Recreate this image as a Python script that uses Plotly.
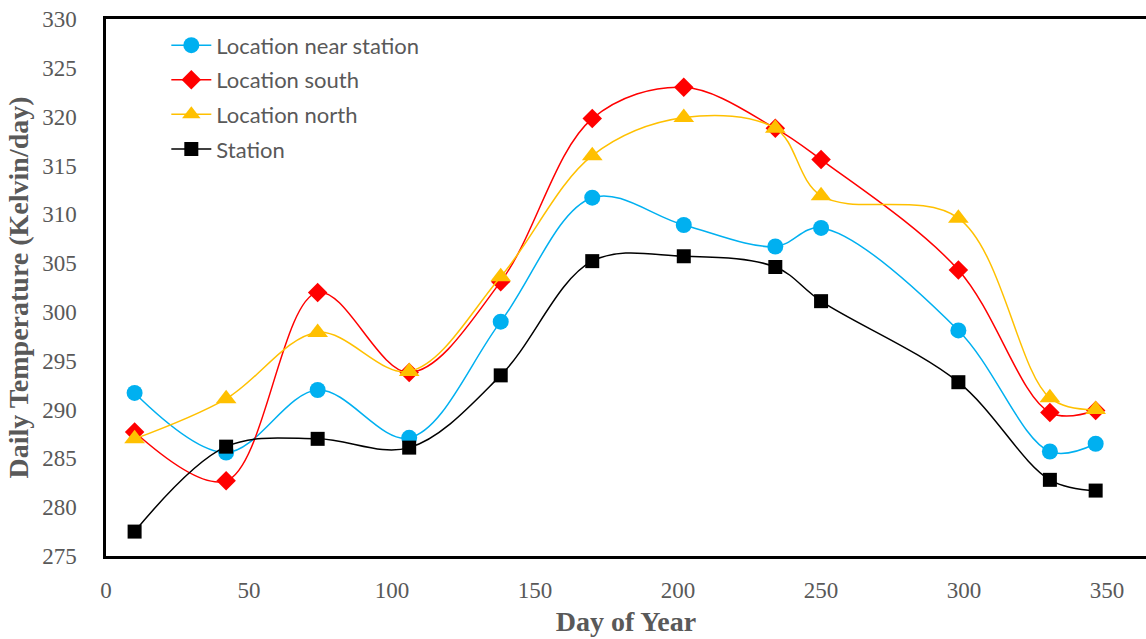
import plotly.graph_objects as go

days = [10, 42, 74, 106, 138, 170, 202, 234, 250, 298, 330, 346]
near_station = [291.7, 285.6, 292.0, 287.1, 299.0, 311.7, 308.9, 306.7, 308.6, 298.1, 285.7, 286.5]
south = [287.7, 282.7, 302.0, 293.8, 303.1, 319.8, 323.0, 318.8, 315.6, 304.3, 289.7, 289.9]
north = [287.0, 291.1, 297.9, 293.9, 303.6, 316.0, 319.9, 318.8, 311.9, 309.6, 291.2, 290.0]
station = [277.5, 286.2, 287.0, 286.1, 293.5, 305.2, 305.7, 304.6, 301.1, 292.8, 282.8, 281.7]

series = [
    ("Location near station", near_station, "#00B0F0", "circle", 16),
    ("Location south", south, "#FF0000", "diamond", 15),
    ("Location north", north, "#FFC000", "triangle-up", 18),
    ("Station", station, "#000000", "square", 14),
]

fig = go.Figure()
for i, (name, vals, color, sym, size) in enumerate(series):
    fig.add_trace(go.Scatter(
        x=days, y=vals, name=name, mode="lines+markers", legendgroup=f"g{i}",
        line=dict(color=color, width=1.5, shape="spline", smoothing=1.0),
        marker=dict(color=color, symbol=sym, size=size, line=dict(width=0)),
    ))

tick_font = dict(family="Liberation Serif, Times New Roman, serif", size=23, color="#595959")
title_font = dict(family="Liberation Serif, Times New Roman, serif", size=28, color="#595959")

fig.update_layout(
    width=1146, height=639,
    margin=dict(l=106, r=0, t=19, b=83),
    plot_bgcolor="white", paper_bgcolor="white",
    showlegend=True,
    legend=dict(
        x=0.058, y=0.99, xanchor="left", yanchor="top",
        font=dict(family="Lato, Open Sans, sans-serif", size=22, color="#595959"),
        bgcolor="rgba(0,0,0,0)", tracegroupgap=3, itemwidth=40,
    ),
    xaxis=dict(
        range=[0, 363.6], tickvals=[0, 50, 100, 150, 200, 250, 300, 350],
        showgrid=False, zeroline=False, showline=True, linecolor="black", linewidth=2.5,
        mirror=True, ticks="", tickfont=tick_font, ticklabelstandoff=12,
        title=dict(text="<b>Day of Year</b>", font=title_font, standoff=10),
    ),
    yaxis=dict(
        range=[275, 330], tickvals=list(range(275, 331, 5)),
        showgrid=False, zeroline=False, showline=True, linecolor="black", linewidth=2.5,
        mirror=False, ticks="", tickfont=tick_font, ticklabelstandoff=22,
        title=dict(text="<b>Daily Temperature (Kelvin/day)</b>", font=title_font, standoff=6),
    ),
)

fig.write_html("out.html")
